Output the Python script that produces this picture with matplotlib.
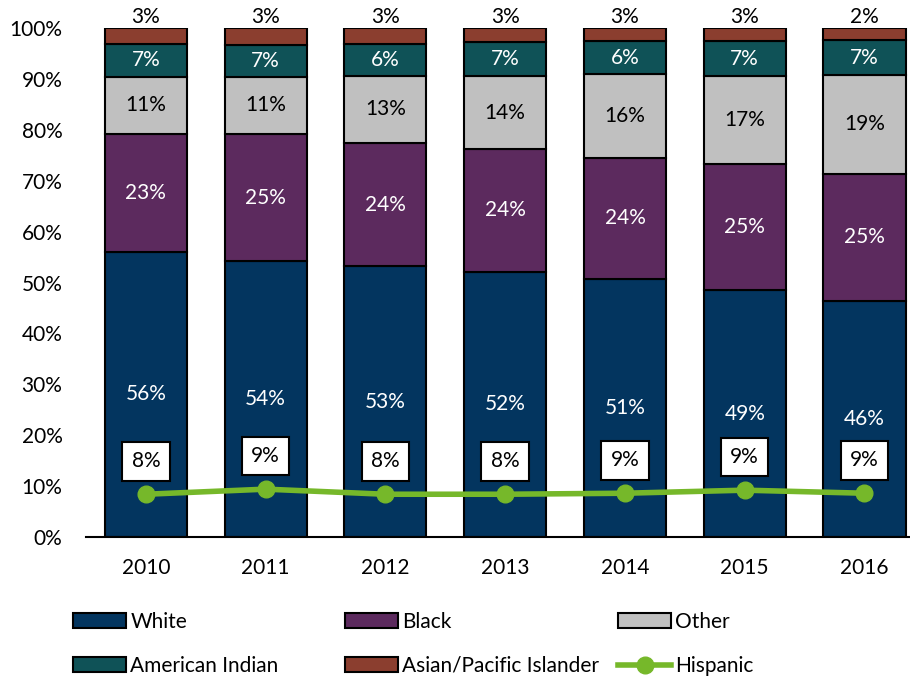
import numpy as np
import matplotlib.pyplot as plt
from matplotlib.patches import Patch
from matplotlib.lines import Line2D

plt.rcParams['font.family'] = ['Lato', 'DejaVu Sans']

years = ['2010', '2011', '2012', '2013', '2014', '2015', '2016']

white = [56.0, 54.2, 53.2, 52.1, 50.7, 48.5, 46.4]
black = [23.2, 25.0, 24.2, 24.1, 23.8, 24.8, 24.9]
other = [11.2, 11.2, 13.2, 14.4, 16.5, 17.3, 19.5]
am_indian = [6.5, 6.3, 6.3, 6.6, 6.4, 6.8, 6.8]
asian = [3.1, 3.3, 3.1, 2.8, 2.6, 2.6, 2.4]
hispanic = [8.4, 9.4, 8.4, 8.4, 8.6, 9.2, 8.6]

white_lbl = ['56%', '54%', '53%', '52%', '51%', '49%', '46%']
black_lbl = ['23%', '25%', '24%', '24%', '24%', '25%', '25%']
other_lbl = ['11%', '11%', '13%', '14%', '16%', '17%', '19%']
ai_lbl = ['7%', '7%', '6%', '7%', '6%', '7%', '7%']
asian_lbl = ['3%', '3%', '3%', '3%', '3%', '3%', '2%']
hisp_lbl = ['8%', '9%', '8%', '8%', '9%', '9%', '9%']

series = [
    ('White', white, '#03355f', white_lbl, 'white'),
    ('Black', black, '#5c2a5e', black_lbl, 'white'),
    ('Other', other, '#c0c0c0', other_lbl, 'black'),
    ('American Indian', am_indian, '#0f5257', ai_lbl, 'white'),
    ('Asian/Pacific Islander', asian, '#8b3e2f', asian_lbl, None),
]
green = '#76b82a'
fs = 15

fig = plt.figure(figsize=(9.1, 6.77), dpi=100)
ax = fig.add_axes([0.0945, 0.2068, 0.9055, 0.7518])

x = np.arange(len(years))
bottom = np.zeros(len(years))
for name, vals, col, lbls, tc in series:
    vals = np.array(vals)
    ax.bar(x, vals, width=0.685, bottom=bottom, color=col,
           edgecolor='black', linewidth=1.5, zorder=2)
    for i in range(len(x)):
        if tc is None:
            ax.text(x[i], 100.2, lbls[i], ha='center', va='bottom',
                    fontsize=fs, color='black', clip_on=False)
        else:
            ax.text(x[i], bottom[i] + vals[i] / 2, lbls[i], ha='center',
                    va='center', fontsize=fs, color=tc, zorder=3)
    bottom += vals

ax.plot(x, hispanic, color=green, lw=4, marker='o', ms=12, zorder=4)
for i in range(len(x)):
    ax.text(x[i], hispanic[i] + 6.5, hisp_lbl[i], ha='center', va='center',
            fontsize=fs, zorder=5,
            bbox=dict(boxstyle='square,pad=0.45', fc='white', ec='black', lw=1.5))

ax.set_xlim(-0.5, 6.38)
ax.set_ylim(0, 100)
ax.set_yticks(np.arange(0, 101, 10))
ax.set_yticklabels([f'{v}%' for v in range(0, 101, 10)])
ax.set_xticks(x)
ax.set_xticklabels(years)
ax.tick_params(axis='both', length=0, labelsize=fs)
ax.tick_params(axis='y', pad=17)
ax.tick_params(axis='x', pad=15)
for s in ['top', 'right', 'left']:
    ax.spines[s].set_visible(False)
ax.spines['bottom'].set_linewidth(1.5)

handles = [Patch(fc=col, ec='black', lw=1.5, label=name) for name, _, col, _, _ in series]
handles.append(Line2D([], [], color=green, lw=4, marker='o', ms=12, label='Hispanic'))
columns = [[0, 3], [1, 4], [2, 5]]
col_x = [73, 345, 618]
for cx, idx in zip(col_x, columns):
    leg = fig.legend([handles[i] for i in idx], [handles[i].get_label() for i in idx],
                     loc='upper left', bbox_to_anchor=(cx / 910, 1 - 612 / 677),
                     frameon=False, fontsize=fs, handlelength=2.55,
                     handletextpad=0.2, labelspacing=1.15,
                     borderpad=0, borderaxespad=0)

fig.savefig('out.png', dpi=100)
